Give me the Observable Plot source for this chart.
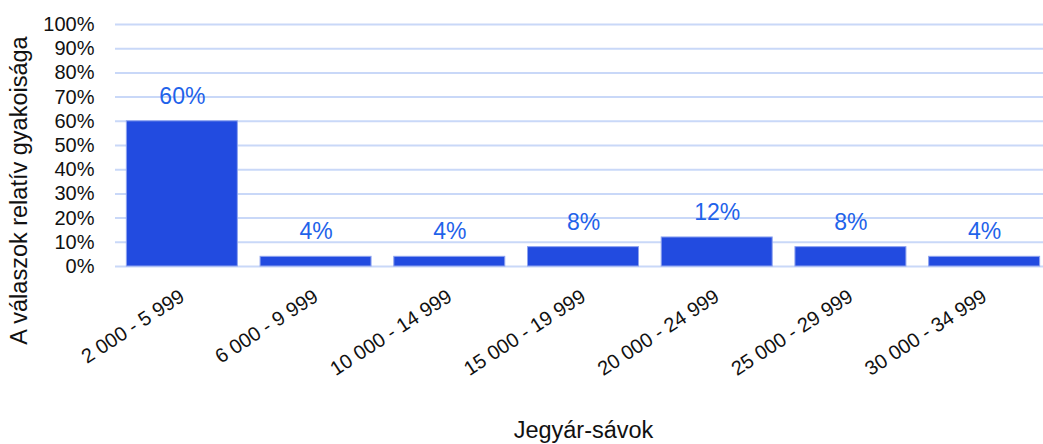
<!DOCTYPE html>
<html>
<head>
<meta charset="utf-8">
<script src="https://cdn.jsdelivr.net/npm/d3@7"></script>
<script src="https://cdn.jsdelivr.net/npm/@observablehq/plot@0.6"></script>
<style>
  html, body { margin: 0; padding: 0; background: #fff; overflow: hidden; }
  svg { display: block; }
</style>
</head>
<body>
<div id="chart"></div>
<script>
const categories = ["2 000 - 5 999", "6 000 - 9 999", "10 000 - 14 999", "15 000 - 19 999", "20 000 - 24 999", "25 000 - 29 999", "30 000 - 34 999"];
const values = [60, 4, 4, 8, 12, 8, 4];
const yTicks = [0, 10, 20, 30, 40, 50, 60, 70, 80, 90, 100];
const xTitle = "Jegyár-sávok";
const yTitle = "A válaszok relatív gyakoisága";

const data = categories.map((c, i) => ({cat: c, v: values[i]}));

const chart = Plot.plot({
  width: 1043,
  height: 444,
  marginTop: 24,
  marginBottom: 178,
  marginLeft: 115,
  marginRight: -8,
  style: {fontFamily: "'Liberation Sans', Arial, sans-serif", background: "#fff"},
  x: {domain: categories, paddingInner: 0.17, paddingOuter: 0.085, round: false},
  y: {domain: [0, 100]},
  marks: [
    Plot.gridY(yTicks, {stroke: "#c9d8f8", strokeOpacity: 1, strokeWidth: 2}),
    Plot.barY(data, {x: "cat", y: "v", fill: "#224be0", stroke: "#8ea3ef", strokeWidth: 1}),
    Plot.text(data, {x: "cat", y: "v", text: d => d.v + "%", dy: -25, lineAnchor: "middle", fill: "#1f63ea", fontSize: 23}),
    Plot.axisY(yTicks, {tickSize: 0, tickPadding: 21, tickFormat: d => d + "%", fontSize: 20, fill: "#111", label: null}),
    Plot.axisX({tickSize: 0, tickPadding: 28, tickRotate: -33, dx: 0, fontSize: 20, fill: "#111", label: null}),
    Plot.text([xTitle], {frameAnchor: "bottom", dy: 164, textAnchor: "middle", lineAnchor: "middle", fontSize: 23.5, fill: "#111"}),
    Plot.text([yTitle], {frameAnchor: "left", dx: -96, dy: 45, rotate: -90, textAnchor: "middle", lineAnchor: "middle", fontSize: 23.5, fill: "#111"})
  ]
});
document.getElementById("chart").appendChild(chart);
</script>
</body>
</html>
